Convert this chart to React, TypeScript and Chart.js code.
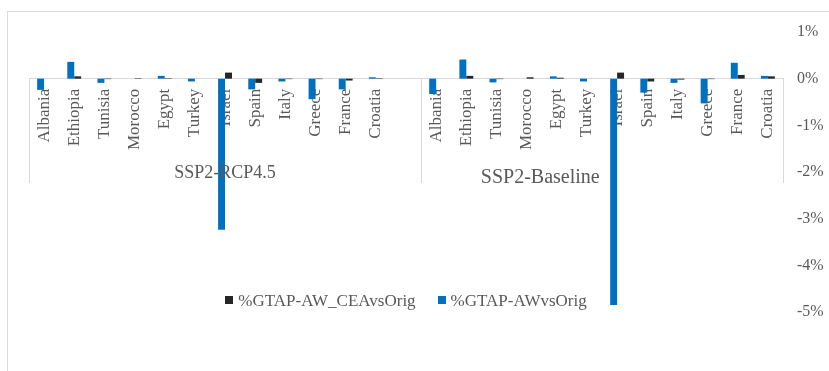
import React, { useEffect, useRef } from "react";
import { Chart, registerables } from "chart.js";

Chart.register(...registerables);

// Countries shown in each scenario block
const countries = [
  "Albania", "Ethiopia", "Tunisia", "Morocco", "Egypt", "Turkey",
  "Israel", "Spain", "Italy", "Greece", "France", "Croatia",
];
const scenarios = ["SSP2-RCP4.5", "SSP2-Baseline"];
// The first block carries one empty slot after Croatia
const categories = [...countries, "", ...countries];

// % change, GTAP-AW vs original (RCP4.5 block, spacer, then Baseline block)
const awVsOrig = [
  -0.24, 0.36, -0.09, 0.0, 0.06, -0.06, -3.24, -0.23, -0.06, -0.44, -0.23, 0.03,
  null,
  -0.33, 0.41, -0.08, 0.0, 0.05, -0.06, -4.85, -0.3, -0.09, -0.53, 0.34, 0.06,
];
// % change, GTAP-AW_CEA vs original
const awCeaVsOrig = [
  0.0, 0.05, -0.01, 0.01, 0.01, 0.0, 0.13, -0.09, -0.01, -0.01, -0.04, 0.01,
  null,
  0.0, 0.06, -0.01, 0.03, 0.02, 0.0, 0.13, -0.06, -0.02, -0.01, 0.08, 0.05,
];

const seriesLabels = ["%GTAP-AWvsOrig", "%GTAP-AW_CEAvsOrig"];
const seriesColors = ["#0070C0", "#262626"];

const yMin = -5;
const yMax = 1;
const yStep = 1;

const SERIF = "'Liberation Serif', 'Times New Roman', serif";
const TEXT = "#595959";
const LINE = "#d9d9d9";

// Light outer frame of the chart object
const framePlugin = {
  id: "frame",
  beforeDraw(chart: any) {
    const { ctx, width, height } = chart;
    ctx.save();
    ctx.fillStyle = "#ffffff";
    ctx.fillRect(0, 0, width, height);
    ctx.strokeStyle = LINE;
    ctx.lineWidth = 1;
    ctx.strokeRect(7.5, 11.5, width + 20, height + 20);
    ctx.restore();
  },
};

// Scenario dividers and scenario names under the country labels
const groupPlugin = {
  id: "groups",
  afterDraw(chart: any) {
    const { ctx } = chart;
    const x = chart.scales.x;
    const y = chart.scales.y;
    const zero = y.getPixelForValue(0);
    const n = countries.length + 1; // block width incl. spacer
    const mid = (x.getPixelForValue(n - 1) + x.getPixelForValue(n)) / 2;
    const bounds = [x.left, mid, x.right];
    ctx.save();
    ctx.strokeStyle = LINE;
    ctx.lineWidth = 1;
    for (const b of bounds) {
      const px = Math.round(b) + 0.5;
      ctx.beginPath();
      ctx.moveTo(px, Math.round(zero));
      ctx.lineTo(px, Math.round(zero) + 104);
      ctx.stroke();
    }
    ctx.fillStyle = TEXT;
    ctx.textAlign = "center";
    ctx.textBaseline = "alphabetic";
    ctx.font = `18px ${SERIF}`;
    ctx.fillText(scenarios[0], x.getPixelForValue((n - 1) / 2), zero + 99);
    ctx.font = `20px ${SERIF}`;
    ctx.fillText(scenarios[1], x.getPixelForValue(n + 3.45), zero + 104);
    ctx.restore();
  },
};

// Legend drawn inside the plot, centred under the bars
const legendPlugin = {
  id: "innerLegend",
  afterDraw(chart: any) {
    const { ctx, chartArea } = chart;
    const order = [1, 0];
    const box = 8;
    const gapText = 5;
    const gapItem = 22;
    ctx.save();
    ctx.font = `17px ${SERIF}`;
    const widths = order.map(
      (i) => box + gapText + ctx.measureText(chart.data.datasets[i].label).width
    );
    const total = widths.reduce((a, b) => a + b, 0) + gapItem * (order.length - 1);
    let cx = (chartArea.left + chartArea.right) / 2 - total / 2;
    const cy = chart.scales.y.getPixelForValue(-4.75);
    ctx.textBaseline = "middle";
    ctx.textAlign = "left";
    order.forEach((i, k) => {
      const ds = chart.data.datasets[i];
      ctx.fillStyle = ds.backgroundColor;
      ctx.fillRect(Math.round(cx), Math.round(cy - box / 2), box, box);
      ctx.fillStyle = TEXT;
      ctx.fillText(ds.label, cx + box + gapText, cy + 1);
      cx += widths[k] + gapItem;
    });
    ctx.restore();
  },
};

export default function App() {
  const canvasRef = useRef<HTMLCanvasElement | null>(null);

  useEffect(() => {
    document.body.style.margin = "0";
    const canvas = canvasRef.current;
    if (!canvas) return;
    const chart = new Chart(canvas, {
      type: "bar",
      data: {
        labels: categories,
        datasets: [
          {
            label: seriesLabels[0],
            data: awVsOrig,
            backgroundColor: seriesColors[0],
            borderWidth: 0,
            categoryPercentage: 0.46,
            barPercentage: 1,
          },
          {
            label: seriesLabels[1],
            data: awCeaVsOrig,
            backgroundColor: seriesColors[1],
            borderWidth: 0,
            categoryPercentage: 0.46,
            barPercentage: 1,
          },
        ],
      },
      options: {
        animation: false,
        responsive: true,
        maintainAspectRatio: false,
        layout: { padding: { left: 29, top: 32, right: 0, bottom: 59 } },
        plugins: {
          legend: { display: false },
          tooltip: { enabled: false },
        },
        scales: {
          x: {
            position: { y: 0 } as any,
            grid: { display: false, drawTicks: false },
            border: { display: true, color: LINE, width: 1 },
            afterFit: (s: any) => {
              s.height = 0;
            },
            ticks: {
              autoSkip: false,
              minRotation: 90,
              maxRotation: 90,
              padding: 10,
              color: TEXT,
              font: { family: SERIF, size: 17 },
            },
          },
          y: {
            position: "right",
            min: yMin,
            max: yMax,
            grid: { display: false, drawTicks: false },
            border: { display: false },
            afterFit: (s: any) => {
              s.width = 46;
            },
            ticks: {
              stepSize: yStep,
              padding: 14,
              crossAlign: "near",
              color: TEXT,
              font: { family: SERIF, size: 16 },
              callback: (v: any) => `${v}%`,
            },
          },
        },
      },
      plugins: [framePlugin, groupPlugin, legendPlugin],
    });
    return () => chart.destroy();
  }, []);

  return (
    <div style={{ width: 829, height: 371, position: "relative" }}>
      <canvas ref={canvasRef} />
    </div>
  );
}
